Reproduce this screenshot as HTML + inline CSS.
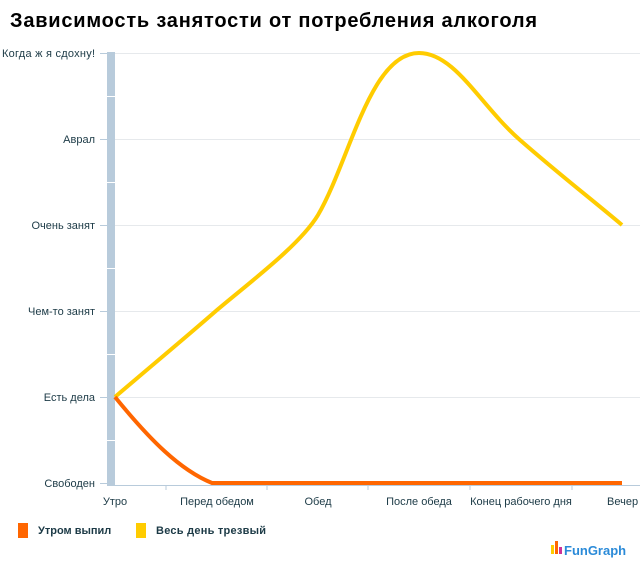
<!DOCTYPE html>
<html><head><meta charset="utf-8"><style>
body{margin:0;background:#fff;}
svg{display:block;font-family:"Liberation Sans","DejaVu Sans",sans-serif;}
</style></head><body>
<svg width="640" height="565" viewBox="0 0 640 565">
<text x="10" y="27" font-size="20" font-weight="bold" fill="#000" textLength="527" lengthAdjust="spacing">Зависимость занятости от потребления алкоголя</text>
<g stroke="#e6e9ec" stroke-width="1">
<line x1="115" y1="53.5" x2="640" y2="53.5"/>
<line x1="115" y1="139.5" x2="640" y2="139.5"/>
<line x1="115" y1="225.5" x2="640" y2="225.5"/>
<line x1="115" y1="311.5" x2="640" y2="311.5"/>
<line x1="115" y1="397.5" x2="640" y2="397.5"/>
</g>
<rect x="107" y="52" width="8" height="433" fill="#b8cbdb"/>
<g stroke="#fff" stroke-width="1">
<line x1="107" y1="96.5" x2="115" y2="96.5"/><line x1="107" y1="182.5" x2="115" y2="182.5"/>
<line x1="107" y1="268.5" x2="115" y2="268.5"/><line x1="107" y1="354.5" x2="115" y2="354.5"/>
<line x1="107" y1="440.5" x2="115" y2="440.5"/>
</g>
<g stroke="#b8cbdb" stroke-width="1">
<line x1="100" y1="53.5" x2="107" y2="53.5"/><line x1="100" y1="139.5" x2="107" y2="139.5"/>
<line x1="100" y1="225.5" x2="107" y2="225.5"/><line x1="100" y1="311.5" x2="107" y2="311.5"/>
<line x1="100" y1="397.5" x2="107" y2="397.5"/><line x1="100" y1="483.5" x2="107" y2="483.5"/>
<line x1="107" y1="485.5" x2="640" y2="485.5"/>
<line x1="166" y1="486" x2="166" y2="490"/><line x1="267" y1="486" x2="267" y2="490"/>
<line x1="368" y1="486" x2="368" y2="490"/><line x1="470" y1="486" x2="470" y2="490"/>
<line x1="572" y1="486" x2="572" y2="490"/>
</g>
<g font-size="11" fill="#1c3a46" text-anchor="end">
<text x="95" y="57" textLength="93">Когда ж я сдохну!</text>
<text x="95" y="143">Аврал</text>
<text x="95" y="229">Очень занят</text>
<text x="95" y="315">Чем-то занят</text>
<text x="95" y="401">Есть дела</text>
<text x="95" y="487">Свободен</text>
</g>
<g font-size="11" fill="#1c3a46" text-anchor="middle">
<text x="115" y="505">Утро</text>
<text x="217" y="505">Перед обедом</text>
<text x="318" y="505">Обед</text>
<text x="419" y="505">После обеда</text>
<text x="521" y="505">Конец рабочего дня</text>
</g>
<text x="607" y="505" font-size="11" fill="#1c3a46">Вечер</text>
<path d="M115,397 C150,367 185,338 217,310 C250,282 300,245 318,215 C350,160 370,53 419,53 C455,53 480,105 520,140 C560,175 590,198 622,225" fill="none" stroke="#ffcc00" stroke-width="4"/>
<path d="M115,397 C150,440 180,470 212,483 L622,483" fill="none" stroke="#ff6600" stroke-width="4"/>
<rect x="18" y="523" width="10" height="15" fill="#ff6600"/>
<text x="38" y="534" font-size="11" font-weight="bold" fill="#1c3a46">Утром выпил</text>
<rect x="136" y="523" width="10" height="15" fill="#ffcc00"/>
<text x="156" y="534" font-size="11" font-weight="bold" fill="#1c3a46" textLength="110">Весь день трезвый</text>
<rect x="551" y="545" width="3" height="9" fill="#ffcc00"/>
<rect x="555" y="541" width="3" height="13" fill="#ff6600"/>
<rect x="559" y="547" width="3" height="7" fill="#cc3399"/>
<text x="564" y="555" font-size="13" font-weight="bold" fill="#2a8ad8">FunGraph</text>
</svg>
</body></html>
